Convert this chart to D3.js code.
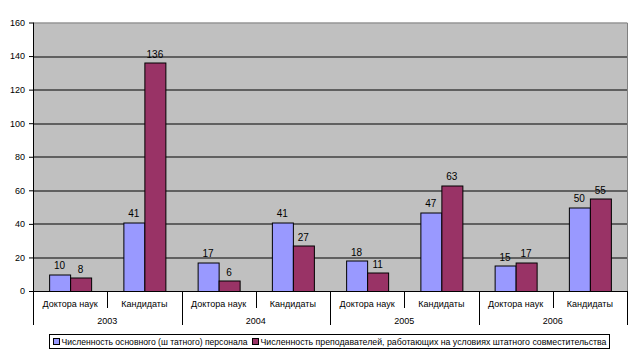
<!DOCTYPE html>
<html>
<head>
<meta charset="utf-8">
<script src="https://cdn.jsdelivr.net/npm/d3@7"></script>
<style>
  body { margin: 0; background: #fff; }
  text { font-family: Arial, "Liberation Sans", sans-serif; fill: #000; }
</style>
</head>
<body>
<div id="chart"></div>
<script>
var width = 638;
var height = 355;

// data
var years = ["2003", "2004", "2005", "2006"];
var degrees = ["Доктора наук", "Кандидаты"];
var seriesNames = [
  "Численность основного (ш татного) персонала",
  "Численность преподавателей, работающих на условиях штатного совместительства"
];
var staffValues = [10, 41, 17, 41, 18, 47, 15, 50];
var partTimeValues = [8, 136, 6, 27, 11, 63, 17, 55];
var yTicks = [0, 20, 40, 60, 80, 100, 120, 140, 160];
var colors = ["#9999FF", "#993366"];

var margin = {left: 33, right: 11, top: 22.5, bottom: 64};
var plotW = width - margin.left - margin.right;
var plotH = height - margin.top - margin.bottom;

// one slot per year + degree
var slots = [];
years.forEach(function(y) {
  degrees.forEach(function(d) { slots.push(y + "|" + d); });
});

var svg = d3.select("#chart").append("svg")
    .attr("width", width)
    .attr("height", height);

var x = d3.scaleBand().domain(slots).range([0, plotW]).paddingInner(0).paddingOuter(0);
var y = d3.scaleLinear().domain([0, 160]).range([plotH, 0]);
var xSeries = d3.scaleBand().domain([0, 1]).range([0, 42]);

var g = svg.append("g").attr("transform", "translate(" + margin.left + "," + margin.top + ")");

// plot background
g.append("rect")
    .attr("width", plotW)
    .attr("height", plotH)
    .attr("fill", "#C0C0C0");

// gridlines
g.selectAll(".grid")
    .data(yTicks.filter(function(t) { return t > 0 && t < 160; }))
  .enter().append("line")
    .attr("x1", 0).attr("x2", plotW)
    .attr("y1", function(d) { return Math.round(y(d)) + 0.5; })
    .attr("y2", function(d) { return Math.round(y(d)) + 0.5; })
    .attr("stroke", "#000");

// plot border top & right
g.append("path")
    .attr("d", "M0,0.5H" + (plotW + 0.5) + "V" + plotH)
    .attr("fill", "none")
    .attr("stroke", "#808080");

// bars
var rows = slots.map(function(s, i) { return {slot: s, values: [staffValues[i], partTimeValues[i]]}; });

var group = g.selectAll(".grp")
    .data(rows)
  .enter().append("g")
    .attr("transform", function(d) { return "translate(" + (x(d.slot) + (x.bandwidth() - 42) / 2) + ",0)"; });

group.selectAll("rect")
    .data(function(d) { return d.values.map(function(v, k) { return {k: k, v: v}; }); })
  .enter().append("rect")
    .attr("x", function(d) { return Math.round(xSeries(d.k)) + 0.5; })
    .attr("y", function(d) { return Math.round(y(d.v)) + 0.5; })
    .attr("width", xSeries.bandwidth())
    .attr("height", function(d) { return plotH - Math.round(y(d.v)); })
    .attr("fill", function(d) { return colors[d.k]; })
    .attr("stroke", "#000");

group.selectAll(".val")
    .data(function(d) { return d.values.map(function(v, k) { return {k: k, v: v}; }); })
  .enter().append("text")
    .attr("x", function(d) { return xSeries(d.k) + xSeries.bandwidth() / 2; })
    .attr("y", function(d) { return y(d.v) - 5; })
    .attr("text-anchor", "middle")
    .style("font-size", "10px")
    .text(function(d) { return d.v; });

// y axis
var yAxis = g.append("g")
    .call(d3.axisLeft(y).tickValues(yTicks).tickSize(4).tickPadding(4));
yAxis.select(".domain").remove();
yAxis.selectAll(".tick line").attr("stroke", "#000");
yAxis.selectAll("text")
    .style("font-size", "9px")
    .style("font-family", "Arial, 'Liberation Sans', sans-serif");

// axis lines
g.append("line")
    .attr("x1", 0.5).attr("x2", 0.5)
    .attr("y1", 0).attr("y2", plotH + 34)
    .attr("stroke", "#000");
g.append("line")
    .attr("x1", 0).attr("x2", plotW)
    .attr("y1", plotH + 0.5).attr("y2", plotH + 0.5)
    .attr("stroke", "#000");

// category separators
slots.forEach(function(s, i) {
  if (i === 0) return;
  var xx = Math.round(x(s)) + 0.5;
  g.append("line")
      .attr("x1", xx).attr("x2", xx)
      .attr("y1", plotH).attr("y2", plotH + (i % 2 === 0 ? 34 : 17))
      .attr("stroke", "#000");
});
g.append("line")
    .attr("x1", plotW + 0.5).attr("x2", plotW + 0.5)
    .attr("y1", plotH).attr("y2", plotH + 34)
    .attr("stroke", "#000");

// category labels
g.selectAll(".cat")
    .data(slots)
  .enter().append("text")
    .attr("x", function(d) { return x(d) + x.bandwidth() / 2; })
    .attr("y", plotH + 16)
    .attr("text-anchor", "middle")
    .style("font-size", "9px")
    .text(function(d) { return d.split("|")[1]; });

g.selectAll(".yr")
    .data(years)
  .enter().append("text")
    .attr("x", function(d) { return x(d + "|" + degrees[0]) + x.bandwidth(); })
    .attr("y", plotH + 33)
    .attr("text-anchor", "middle")
    .style("font-size", "9px")
    .text(function(d) { return d; });

// legend
var legend = svg.append("g").attr("transform", "translate(49.5,334.5)");
legend.append("rect")
    .attr("width", 560)
    .attr("height", 14)
    .attr("fill", "#fff")
    .attr("stroke", "#000");

var legendX = [4, 203];
var legendW = [186, 346];
seriesNames.forEach(function(name, i) {
  legend.append("rect")
      .attr("x", legendX[i])
      .attr("y", 4)
      .attr("width", 6)
      .attr("height", 6)
      .attr("fill", colors[i])
      .attr("stroke", "#000");
  legend.append("text")
      .attr("x", legendX[i] + 8)
      .attr("y", 10.5)
      .attr("textLength", legendW[i])
      .attr("lengthAdjust", "spacingAndGlyphs")
      .style("font-size", "9.5px")
      .text(name);
});
</script>
</body>
</html>
